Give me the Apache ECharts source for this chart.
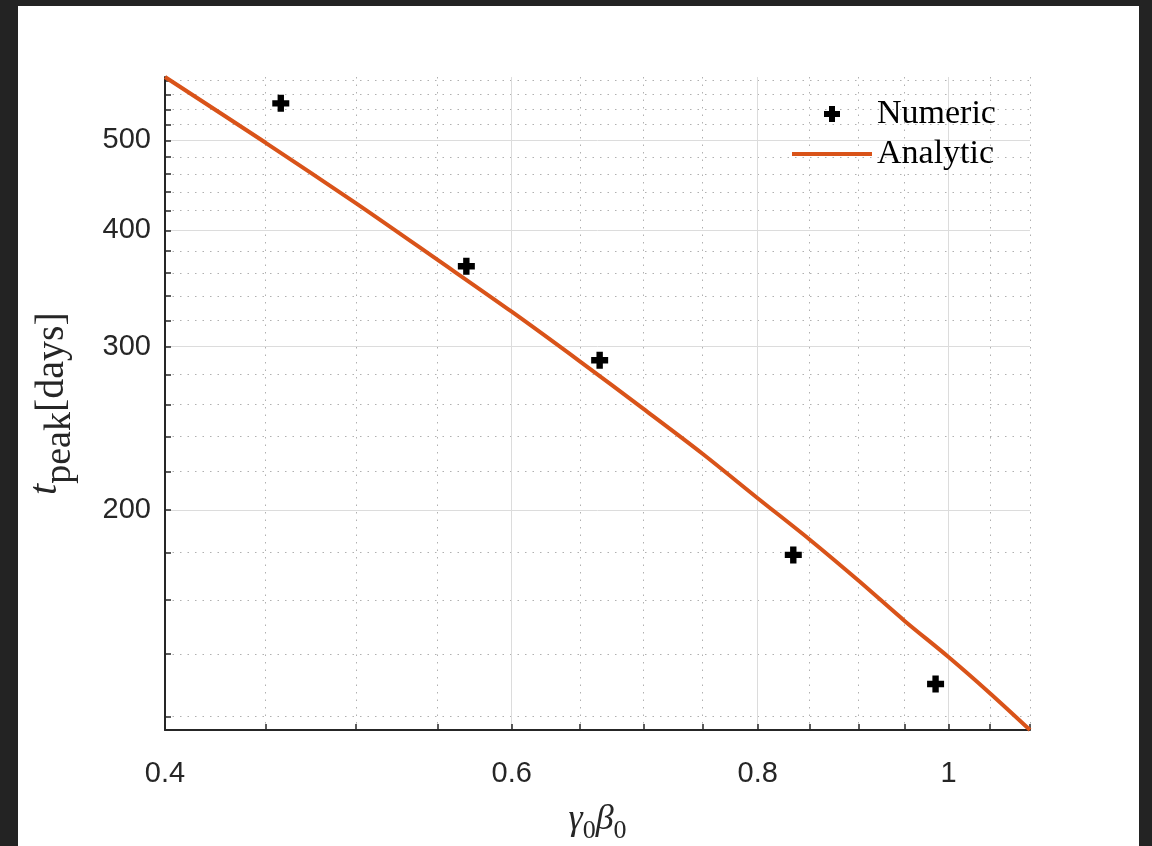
<!DOCTYPE html>
<html>
<head>
<meta charset="utf-8">
<script src="https://cdn.jsdelivr.net/npm/echarts@6/dist/echarts.min.js"></script>
<style>
html, body { margin: 0; padding: 0; background: #232323; }
#frame { position: absolute; left: 18px; top: 6px; width: 1121px; height: 840px; background: #fff; }
#chart { position: absolute; left: -18px; top: -6px; width: 1152px; height: 846px; }
</style>
</head>
<body>
<div id="frame"><div id="chart"></div></div>
<script>
// numeric runs
var numericX = [0.458, 0.569, 0.665, 0.834, 0.985]
var numericY = [548, 366, 290, 179, 130]
// analytic curve
var analyticX = [0.4, 0.45, 0.5, 0.55, 0.6, 0.65, 0.7, 0.75, 0.8, 0.85, 0.9, 0.95, 1.0, 1.05, 1.1]
var analyticY = [585, 497, 428, 372, 327, 289, 257, 230, 206, 186, 168, 152, 139, 127, 116]
// axes
var xRange = [0.4, 1.1]
var yRange = [116, 585]
var xMajor = [0.4, 0.6, 0.8, 1]
var xMinor = [0.45, 0.5, 0.55, 0.65, 0.7, 0.75, 0.85, 0.9, 0.95, 1.05, 1.1]
var yMajor = [200, 300, 400, 500]
var yMinor = [120, 140, 160, 180, 220, 240, 260, 280, 320, 340, 360, 380, 420, 440, 460, 480, 520, 540, 560, 580]

var lg = function (v) { return Math.log10(v) }
var axisColor = '#262626'
var plus = 'path://M5,0H11V5H16V11H11V16H5V11H0V5H5Z'
var bar = 'path://M0,0H80V4H0Z'

function fmt(v) {
  return String(Math.round(Math.pow(10, v) * 100) / 100)
}

function xAxisOf(ticks, opts) {
  return Object.assign({
    type: 'value', position: 'bottom',
    min: lg(xRange[0]), max: lg(xRange[1]),
    axisLine: { show: false, onZero: false }, axisLabel: { show: false },
    axisTick: { show: false, customValues: ticks.map(lg) },
    splitLine: { show: false }
  }, opts)
}
function yAxisOf(ticks, opts) {
  return Object.assign({
    type: 'value', position: 'left',
    min: lg(yRange[0]), max: lg(yRange[1]),
    axisLine: { show: false, onZero: false }, axisLabel: { show: false },
    axisTick: { show: false, customValues: ticks.map(lg) },
    splitLine: { show: false }
  }, opts)
}

var chart = echarts.init(document.getElementById('chart'))
chart.setOption({
  animation: false,
  grid: { left: 165, right: 122, top: 77, bottom: 116, outerBoundsMode: 'none' },
  legend: {
    orient: 'vertical', left: 792, top: 97, padding: 0,
    itemWidth: 80, itemHeight: 16, itemGap: 6,
    textStyle: { fontFamily: 'Liberation Serif', fontSize: 34, color: '#000', lineHeight: 34 },
    data: [
      { name: 'Numeric', icon: plus },
      { name: 'Analytic', icon: bar }
    ]
  },
  xAxis: [
    xAxisOf(xMajor, {
      splitLine: { show: true, lineStyle: { color: '#dcdcdc', width: 1 } }
    }),
    xAxisOf(xMinor, {
      splitLine: { show: true, lineStyle: { color: '#b0b0b0', width: 1, type: [1.5, 6] } }
    }),
    xAxisOf(xMajor.concat(xMinor), {
      axisLine: { show: true, onZero: false, lineStyle: { color: axisColor, width: 2 } },
      axisTick: { show: true, inside: true, length: 6, lineStyle: { color: axisColor, width: 1.5 }, customValues: xMajor.concat(xMinor).map(lg) },
      axisLabel: {
        show: true, customValues: xMajor.map(lg), formatter: fmt, margin: 29,
        fontFamily: 'Liberation Sans', fontSize: 29, color: axisColor
      },
      name: '{i|γ}{s|0}{i|β}{s|0}', nameLocation: 'middle', nameGap: 72,
      nameTextStyle: {
        rich: {
          i: { fontFamily: 'Liberation Serif', fontStyle: 'italic', fontSize: 36, color: axisColor, lineHeight: 42, verticalAlign: 'top' },
          s: { fontFamily: 'Liberation Serif', fontSize: 26, color: axisColor, lineHeight: 26, verticalAlign: 'bottom' }
        }
      }
    })
  ],
  yAxis: [
    yAxisOf(yMajor, {
      splitLine: { show: true, lineStyle: { color: '#dcdcdc', width: 1 } }
    }),
    yAxisOf(yMinor, {
      splitLine: { show: true, lineStyle: { color: '#b0b0b0', width: 1, type: [1.5, 6] } }
    }),
    yAxisOf(yMajor.concat(yMinor), {
      axisLine: { show: true, onZero: false, lineStyle: { color: axisColor, width: 2 } },
      axisTick: { show: true, inside: true, length: 6, lineStyle: { color: axisColor, width: 1.5 }, customValues: yMajor.concat(yMinor).map(lg) },
      axisLabel: {
        show: true, customValues: yMajor.map(lg), formatter: fmt, margin: 14,
        fontFamily: 'Liberation Sans', fontSize: 29, color: axisColor
      },
      name: '{t|t}{s|peak}{d|[days]}', nameLocation: 'middle', nameGap: 86, nameRotate: 90,
      nameTextStyle: {
        rich: {
          t: { fontFamily: 'Liberation Serif', fontStyle: 'italic', fontSize: 40, color: axisColor, lineHeight: 34, verticalAlign: 'top' },
          s: { fontFamily: 'Liberation Serif', fontSize: 38, color: axisColor, lineHeight: 36, verticalAlign: 'bottom' },
          d: { fontFamily: 'Liberation Serif', fontSize: 40, color: axisColor, lineHeight: 54, verticalAlign: 'middle' }
        }
      }
    })
  ],
  series: [
    {
      name: 'Numeric', type: 'scatter', xAxisIndex: 2, yAxisIndex: 2,
      symbol: plus, symbolSize: 17,
      itemStyle: { color: '#000', opacity: 1 },
      data: numericX.map(function (x, i) { return [lg(x), lg(numericY[i])] })
    },
    {
      name: 'Analytic', type: 'line', xAxisIndex: 2, yAxisIndex: 2,
      showSymbol: false, symbol: 'none', smooth: 0.3,
      lineStyle: { color: '#D95319', width: 4 },
      itemStyle: { color: '#D95319' },
      data: analyticX.map(function (x, i) { return [lg(x), lg(analyticY[i])] })
    }
  ]
})
</script>
</body>
</html>
